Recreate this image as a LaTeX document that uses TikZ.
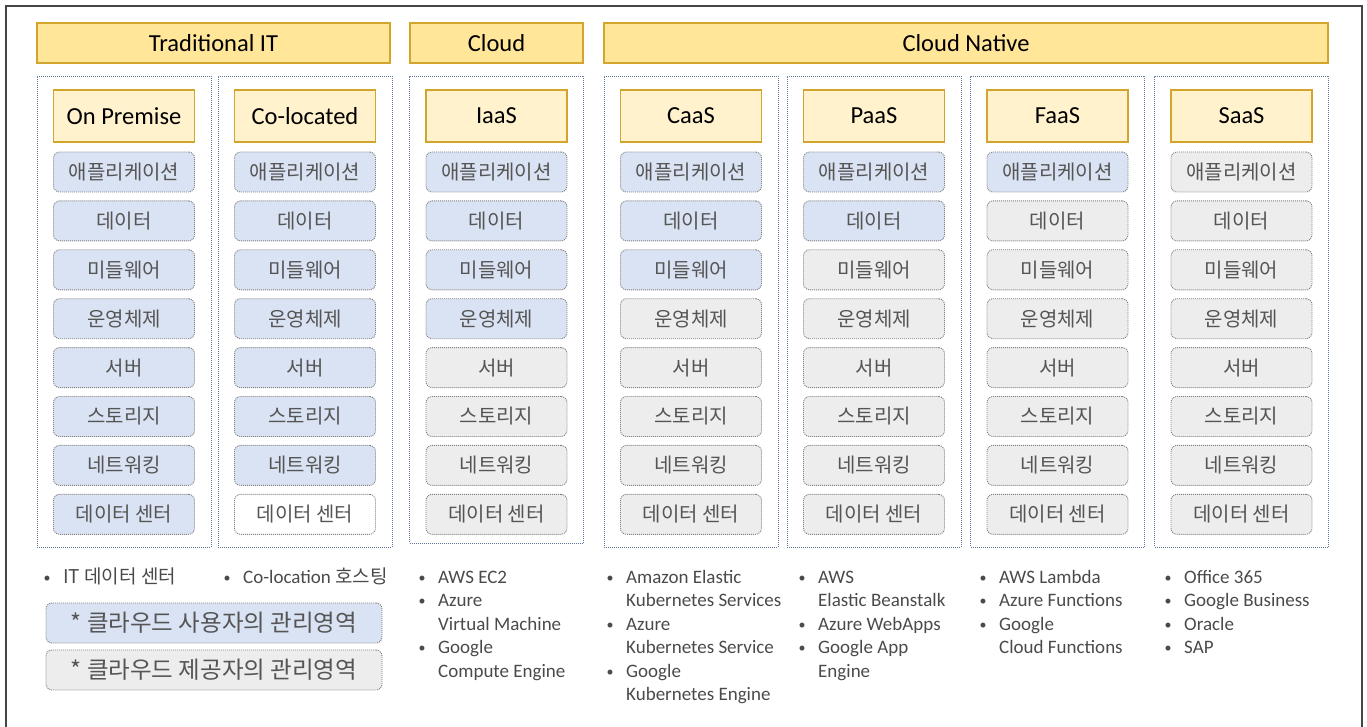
\documentclass[tikz,border=0pt]{standalone}
\usepackage{fontspec}
\setmainfont{Carlito}
\newfontfamily\kr{Noto Sans CJK KR}

\definecolor{goldline}{HTML}{D4A52C}
\definecolor{goldfill}{HTML}{FFE699}
\definecolor{palegold}{HTML}{FFF2CC}
\definecolor{userblue}{HTML}{DAE3F3}
\definecolor{provgray}{HTML}{EDEDED}
\definecolor{dotgray}{HTML}{7F7F7F}
\definecolor{colblue}{HTML}{5F789E}
\definecolor{framegray}{HTML}{454545}
\definecolor{labelgray}{HTML}{555555}
\definecolor{listgray}{HTML}{4A4A4A}

\newcommand\dotmark{\makebox[19.5pt][l]{\raisebox{1pt}{\fontsize{14}{14}\selectfont •}}}

\tikzset{
  tier/.style={draw=goldline, line width=1.3pt, fill=goldfill, inner sep=0pt,
    minimum height=40pt, font=\fontsize{24.5}{28}\selectfont},
  model/.style={draw=goldline, line width=1.3pt, fill=palegold, inner sep=0pt,
    minimum width=141pt, minimum height=52pt, font=\fontsize{24.5}{28}\selectfont},
  layerbox/.style={draw=dotgray, line width=0.9pt, dash pattern=on 1pt off 1pt,
    rounded corners=6pt, minimum width=141pt, minimum height=40pt, inner sep=0pt,
    text=labelgray, font=\kr\fontsize{20}{24}\selectfont},
  colframe/.style={draw=colblue, line width=0.9pt, dash pattern=on 1pt off 1pt,
    inner sep=0pt, minimum width=174pt},
  svclist/.style={anchor=north west, inner sep=0pt, text=listgray,
    font=\fontsize{19}{23.4}\selectfont},
  legend/.style={layerbox, minimum width=336pt, font=\kr\fontsize{23.5}{28}\selectfont},
}

\begin{document}
\begin{tikzpicture}[x=1pt,y=-1pt]
\useasboundingbox (0,0) rectangle (1367,727);

% outer frame (open at the bottom)
\draw[framegray, line width=2pt] (6,728) -- (6,6) -- (1362,6) -- (1362,728);

% tier headings
\node[tier, minimum width=353pt] (trad)   at (213.5,43) {Traditional IT};
\node[tier, minimum width=173pt] (cloud)  at (496.5,43) {Cloud};
\node[tier, minimum width=724pt] (native) at (966,43)   {Cloud Native};

% service models: column frame, model heading, and the eight layers
\foreach \c/\x/\k/\low/\bot/\title in {
    1/124/8/provgray/547/On Premise,
    2/305/7/white/547/Co-located,
    3/496.5/4/provgray/543/IaaS,
    4/691/3/provgray/547/CaaS,
    5/874/2/provgray/547/PaaS,
    6/1057.5/1/provgray/547/FaaS,
    7/1241.5/0/provgray/547/SaaS}{
  \pgfmathsetmacro\hh{\bot-76}
  \pgfmathsetmacro\cy{(\bot+76)/2}
  \node[colframe, minimum height=\hh pt] (col\c) at (\x,\cy) {};
  \node[model] (m\c) at (\x,116) {\title};
  \foreach \lab [count=\r] in {애플리케이션,데이터,미들웨어,운영체제,서버,스토리지,네트워킹,데이터 센터}{
    \pgfmathsetmacro\yy{172+48.9*(\r-1)}
    \ifnum\r>\k \def\fillc{\low}\else\def\fillc{userblue}\fi
    \node[layerbox, fill=\fillc] (L\c-\r) at (\x,\yy) {\lab};
  }
}

% examples under each model
\node[svclist] (s1) at (43.5,566.9) {\begin{tabular}{@{}l@{}l@{}}
  \dotmark & {\kr IT 데이터 센터}\end{tabular}};
\node[svclist] (s2) at (223.5,566.9) {\begin{tabular}{@{}l@{}l@{}}
  \dotmark & Co-location {\kr 호스팅}\end{tabular}};
\node[svclist] (s3) at (418.5,566.9) {\begin{tabular}{@{}l@{}l@{}}
  \dotmark & AWS EC2\\
  \dotmark & Azure\\
           & Virtual Machine\\
  \dotmark & Google\\
           & Compute Engine\end{tabular}};
\node[svclist] (s4) at (606.5,566.9) {\begin{tabular}{@{}l@{}l@{}}
  \dotmark & Amazon Elastic\\
           & Kubernetes Services\\
  \dotmark & Azure\\
           & Kubernetes Service\\
  \dotmark & Google\\
           & Kubernetes Engine\end{tabular}};
\node[svclist] (s5) at (798.5,566.9) {\begin{tabular}{@{}l@{}l@{}}
  \dotmark & AWS\\
           & Elastic Beanstalk\\
  \dotmark & Azure WebApps\\
  \dotmark & Google App\\
           & Engine\end{tabular}};
\node[svclist] (s6) at (979.5,566.9) {\begin{tabular}{@{}l@{}l@{}}
  \dotmark & AWS Lambda\\
  \dotmark & Azure Functions\\
  \dotmark & Google\\
           & Cloud Functions\end{tabular}};
\node[svclist] (s7) at (1164.5,566.9) {\begin{tabular}{@{}l@{}l@{}}
  \dotmark & Office 365\\
  \dotmark & Google Business\\
  \dotmark & Oracle\\
  \dotmark & SAP\end{tabular}};

% legend
\node[legend, fill=userblue] (leguser) at (214,623) {* 클라우드 사용자의 관리영역};
\node[legend, fill=provgray] (legprov) at (214,670) {* 클라우드 제공자의 관리영역};
\end{tikzpicture}
\end{document}
